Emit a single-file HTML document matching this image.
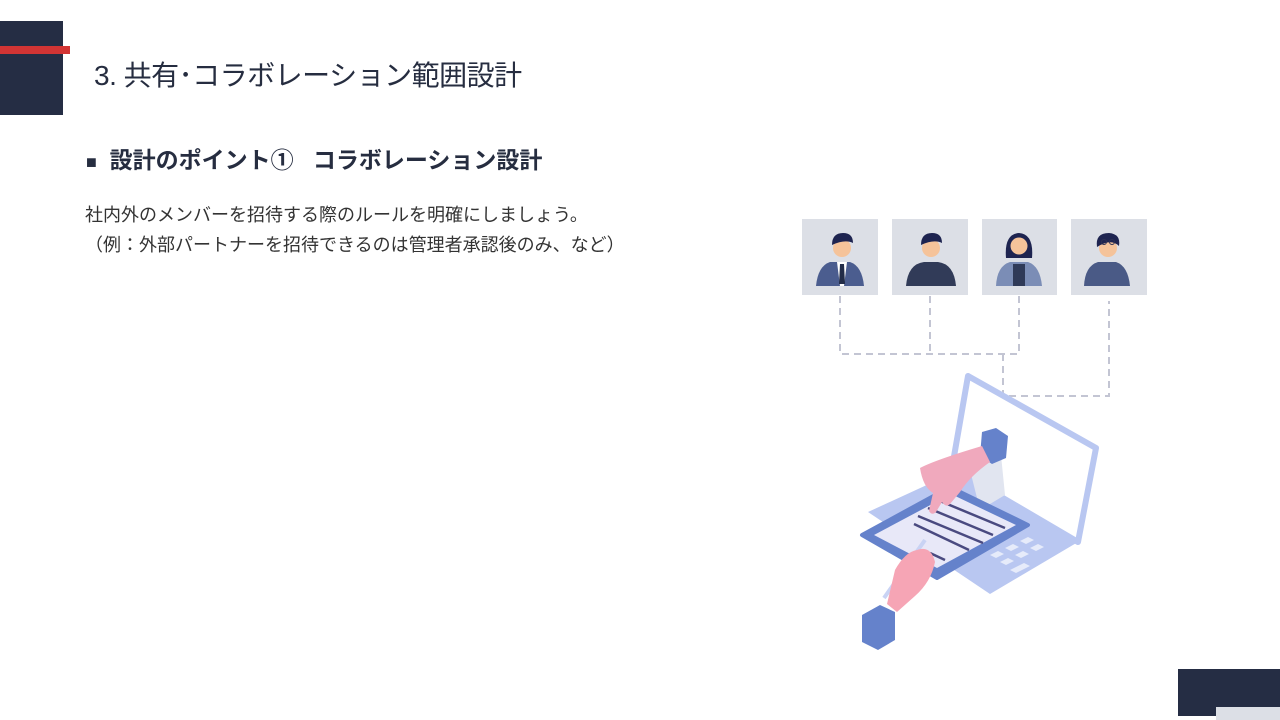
<!DOCTYPE html>
<html><head><meta charset="utf-8">
<style>
body{margin:0;width:1280px;height:720px;background:#fff;position:relative;overflow:hidden;font-family:"Liberation Sans","Noto Sans CJK JP",sans-serif;color:#262d40}
.a{position:absolute}
</style></head><body>
<div class="a" style="left:0;top:21px;width:63px;height:94px;background:#252d44"></div>
<div class="a" style="left:0;top:46px;width:70px;height:8px;background:#d23434"></div>
<div class="a" style="left:94px;top:56px;font-size:28px;white-space:nowrap;line-height:40px;letter-spacing:-0.5px">3. 共有･コラボレーション範囲設計</div>
<div class="a" style="left:86px;top:144px;font-size:23px;font-weight:bold;white-space:nowrap;line-height:32px"><span style="font-size:18px">■</span>&nbsp;&nbsp;設計のポイント①&nbsp;&nbsp; コラボレーション設計</div>
<div class="a" style="left:85px;top:200px;font-size:18px;white-space:nowrap;line-height:30px;color:#333">社内外のメンバーを招待する際のルールを明確にしましょう。<br>（例：外部パートナーを招待できるのは管理者承認後のみ、など）</div>
<div class="a" style="left:1178px;top:669px;width:102px;height:47px;background:#252d44"></div>
<div class="a" style="left:1216px;top:707px;width:64px;height:13px;background:#dcdfe6"></div>
<svg class="a" style="left:0;top:0" width="1280" height="720">
<g fill="#dcdfe6"><rect x="802" y="219" width="76" height="76"/><rect x="892" y="219" width="76" height="76"/><rect x="982" y="219" width="75" height="76"/><rect x="1071" y="219" width="76" height="76"/></g>
<g fill="none" stroke="#c3c5d3" stroke-width="2" stroke-dasharray="7,5">
<path d="M840 296V354H1019V296M930 296V354M1003 354V396H1109V301"/></g>
<g>
<path d="M816 286q2-20 14-24h20q12 4 14 24z" fill="#4b5d8f"/><path d="M837 262h10l-3 24h-4z" fill="#fff"/><path d="M840 264h4l1 20h-6z" fill="#222c48"/>
<circle cx="842" cy="248" r="9" fill="#f5c39a"/><path d="M832 245q0-12 11-12q10 0 10 10q-8-4-21 2z" fill="#1e2450"/>
<path d="M906 286q2-22 18-24h14q16 2 18 24z" fill="#313b58"/>
<circle cx="931" cy="248" r="9" fill="#f5c39a"/><path d="M921 245q0-12 11-12q10 0 10 10q-8-4-21 2z" fill="#1e2450"/>
<path d="M996 286q1-20 14-24h18q12 4 14 24z" fill="#7b8db6"/><path d="M1013 264h12v22h-12z" fill="#2f3a58"/>
<path d="M1006 258q-2-24 13-25q15 1 13 25z" fill="#1e2450"/><circle cx="1019" cy="246" r="8.5" fill="#f5c39a"/>
<path d="M1084 286q1-20 14-24h18q12 4 14 24z" fill="#4a5a86"/>
<circle cx="1108" cy="248" r="9" fill="#f5c39a"/><path d="M1097 247q-2-14 12-14q12 1 10 13q-8-8-22 1z" fill="#1e2450"/>
<g fill="none" stroke="#2c3054" stroke-width="1"><circle cx="1104" cy="242" r="2.5"/><circle cx="1112" cy="242" r="2.5"/></g>
</g>
<path d="M968 376L1096 448L1078 542L952 468Z" fill="#fff" stroke="#b9c7f1" stroke-width="6" stroke-linejoin="round"/>
<path d="M868 512L955 472L1078 542L990 594Z" fill="#b9c7f1"/>
<g fill="#e6ebfa"><path d="M990 555l8-4 6 3-8 4zM1005 548l8-4 6 3-8 4zM1020 541l8-4 6 3-8 4zM1000 562l8-4 6 3-8 4zM1015 555l8-4 6 3-8 4zM1030 548l8-4 6 3-8 4zM1010 570l14-7 6 3-14 7z"/></g>
<path d="M970 470L1000 445L1005 495L980 510Z" fill="#e1e5f0"/>
<path d="M862 535L950 487L1028 525L937 578Z" fill="#6582cb" stroke="#6582cb" stroke-width="4" stroke-linejoin="round"/>
<path d="M874 535L951 494L1016 525L937 568Z" fill="#e8e8f8"/>
<g stroke="#4a4a80" stroke-width="2.5"><path d="M940 501L1005 528M928 508L993 535M918 516L983 543M914 524L969 550M930 553L945 560"/></g>
<path d="M982 432L996 428L1008 436L1006 458L992 464L980 456Z" fill="#6582cb"/>
<path d="M920 468q15-8 62-22l8 16q-20 14-30 30l-10 12q-4 4-8-2l-6 10q-4 4-7-1l4-18q-10-6-13-25z" fill="#f0a9bd"/>
<path d="M884 598L925 540" stroke="#c9d3f4" stroke-width="4"/>
<path d="M895 570q10-18 22-20q14-5 18 12q-4 20-20 34l-18 16l-10-8z" fill="#f6a5b5"/>
<path d="M862 615L880 605L895 612L895 640L878 650L862 642Z" fill="#6582cb"/>
</svg>
</body></html>
